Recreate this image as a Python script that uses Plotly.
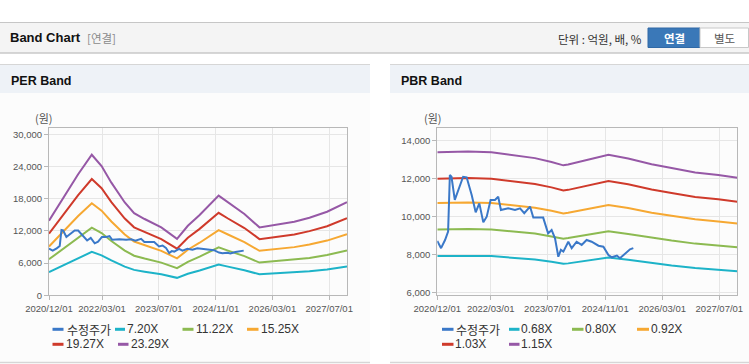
import plotly.graph_objects as go

W, H = 749, 364

# ---------------- data ----------------
x_tick_vals = ["2020-12-01", "2022-03-01", "2023-07-01", "2024-11-01", "2026-03-01", "2027-07-01"]
x_tick_text = ["2020/12/01", "2022/03/01", "2023/07/01", "2024/11/01", "2026/03/01", "2027/07/01"]
per_y_ticks = [0, 6000, 12000, 18000, 24000, 30000]
pbr_y_ticks = [6000, 8000, 10000, 12000, 14000]

price_dates = ["2020-12-01", "2021-01-02", "2021-02-05", "2021-03-03", "2021-03-18", "2021-04-01",
               "2021-04-29", "2021-05-27", "2021-07-09", "2021-08-08", "2021-09-20", "2021-10-24",
               "2021-11-24", "2021-12-28", "2022-01-26", "2022-02-28", "2022-04-06", "2022-05-04",
               "2022-05-27", "2022-07-28", "2022-09-24", "2022-11-06", "2022-12-12", "2023-01-30",
               "2023-02-27", "2023-05-22", "2023-07-03", "2023-08-02", "2023-08-31", "2023-09-28",
               "2023-10-20", "2023-11-10", "2023-12-22", "2024-01-20", "2024-03-02", "2024-04-14",
               "2024-05-26", "2024-07-08", "2024-09-04", "2024-10-16", "2024-11-28", "2024-12-27",
               "2025-02-08", "2025-03-06", "2025-04-18", "2025-05-31", "2025-06-28"]
price_values = [8700, 8320, 8750, 9190, 12170, 12080,
                10860, 11300, 12080, 12050, 11120, 10210,
                10680, 9680, 9980, 10860, 10860, 11030,
                10330, 10420, 10330, 10420, 10160, 10510,
                9930, 9930, 9100, 9280, 8840, 7870,
                8230, 8140, 8660, 8320, 8660, 8490,
                8750, 8660, 8450, 8400, 7960, 7840,
                7930, 7790, 8050, 8260, 8320]

per_dates = ["2020-12-01", "2021-04-15", "2021-08-08", "2021-12-03", "2022-02-25", "2022-05-20",
             "2022-09-12", "2022-12-01", "2023-03-01", "2023-07-22", "2023-12-04", "2024-03-06",
             "2024-06-15", "2024-11-25", "2025-02-13", "2025-07-04", "2025-11-10", "2026-02-04",
             "2026-09-05", "2027-01-13", "2027-06-13", "2027-12-01"]
per_720 = [4300, 5720, 6970, 8090, 7450, 6490, 5340, 4730, 4390, 3910, 3250, 4000,
           4620, 5740, 5340, 4680, 3910, 4000, 4230, 4460, 4810, 5360]
per_1122 = [6700, 8920, 10860, 12610, 11600, 10110, 8330, 7370, 6840, 6090, 5060, 6240,
            7200, 8940, 8330, 7290, 6090, 6240, 6600, 6960, 7500, 8360]
per_1525 = [9100, 12120, 14760, 17140, 15770, 13740, 11320, 10020, 9300, 8280, 6880, 8480,
            9790, 12150, 11320, 9910, 8280, 8480, 8970, 9460, 10190, 11360]
per_1927 = [11500, 15320, 18650, 21660, 19930, 17360, 14300, 12660, 11760, 10460, 8690, 10710,
            12370, 15360, 14300, 12530, 10460, 10710, 11330, 11950, 12870, 14360]
per_2329 = [13900, 18520, 22550, 26180, 24080, 20980, 17280, 15300, 14210, 12650, 10500, 12950,
            14950, 18560, 17280, 15140, 12650, 12950, 13700, 14440, 15560, 17350]

pbr_dates = ["2020-12-01", "2021-08-20", "2022-03-07", "2022-10-21", "2023-03-13", "2023-08-01",
             "2023-11-10", "2023-12-21", "2024-06-10", "2024-11-28", "2025-05-15", "2025-12-01",
             "2026-05-20", "2026-12-07", "2027-06-22", "2027-12-01"]
pbr_068 = [7910, 7930, 7910, 7790, 7720, 7600, 7500, 7520, 7680, 7830, 7710, 7530, 7410, 7280, 7190, 7110]
pbr_080 = [9300, 9330, 9300, 9160, 9090, 8940, 8820, 8850, 9040, 9210, 9070, 8860, 8720, 8560, 8460, 8370]
pbr_092 = [10700, 10730, 10700, 10530, 10450, 10290, 10150, 10180, 10400, 10590, 10430, 10190, 10030, 9840, 9730, 9620]
pbr_103 = [11980, 12010, 11980, 11790, 11700, 11520, 11360, 11390, 11640, 11860, 11680, 11410, 11230, 11020, 10900, 10770]
pbr_115 = [13370, 13410, 13370, 13170, 13060, 12860, 12680, 12720, 13000, 13240, 13040, 12740, 12540, 12300, 12170, 12030]

price_name = "수정주가"
per_names = ["7.20X", "11.22X", "15.25X", "19.27X", "23.29X"]
pbr_names = ["0.68X", "0.80X", "0.92X", "1.03X", "1.15X"]
band_colors = ["#1db3c8", "#8cba51", "#f6a832", "#cf3a2b", "#9658a6"]
price_color = "#3a78c8"

# ---------------- helpers ----------------
def px(x):
    return x / W

def py(y):
    return 1 - y / H

KFONT = "Noto Sans CJK KR"
LFONT = "Liberation Sans, Arial"

fig = go.Figure()

per_bands = [per_720, per_1122, per_1525, per_1927, per_2329]
pbr_bands = [pbr_068, pbr_080, pbr_092, pbr_103, pbr_115]

for vals, name, col in zip(per_bands, per_names, band_colors):
    fig.add_trace(go.Scatter(x=per_dates, y=vals, name=name, mode="lines",
                             line=dict(color=col, width=2), xaxis="x", yaxis="y",
                             showlegend=False, hoverinfo="skip"))
fig.add_trace(go.Scatter(x=price_dates, y=price_values, name=price_name, mode="lines",
                         line=dict(color=price_color, width=2), xaxis="x", yaxis="y",
                         showlegend=False))

for vals, name, col in zip(pbr_bands, pbr_names, band_colors):
    fig.add_trace(go.Scatter(x=pbr_dates, y=vals, name=name, mode="lines",
                             line=dict(color=col, width=2), xaxis="x2", yaxis="y2",
                             showlegend=False, hoverinfo="skip"))
fig.add_trace(go.Scatter(x=price_dates, y=price_values, name=price_name, mode="lines",
                         line=dict(color=price_color, width=2), xaxis="x2", yaxis="y2",
                         showlegend=False))

axis_common = dict(showgrid=True, gridcolor="#e6e6e6", gridwidth=1,
                   showline=True, mirror=True, linecolor="#b8b8b8", linewidth=1,
                   ticks="outside", ticklen=4, tickcolor="#b8b8b8",
                   tickfont=dict(family=LFONT, size=9.5, color="#555555"),
                   zeroline=False, fixedrange=True, automargin=False)

xdom1 = [px(49), px(347)]
xdom2 = [px(437.3), px(737.3)]
ydom = [py(295.3), py(128.3)]

fig.update_layout(
    width=W, height=H, autosize=False,
    margin=dict(l=0, r=0, t=0, b=0, pad=0),
    paper_bgcolor="white", plot_bgcolor="white",
    showlegend=False,
    xaxis=dict(domain=xdom1, anchor="y", type="date", range=["2020-12-01", "2027-12-01"],
               tickvals=x_tick_vals, ticktext=x_tick_text, **axis_common),
    yaxis=dict(domain=ydom, anchor="x", range=[0, 31100], tickvals=per_y_ticks,
               tickformat=",", **axis_common),
    xaxis2=dict(domain=xdom2, anchor="y2", type="date", range=["2020-12-01", "2027-12-01"],
                tickvals=x_tick_vals, ticktext=x_tick_text, **axis_common),
    yaxis2=dict(domain=ydom, anchor="x2", range=[5840, 14630], tickvals=pbr_y_ticks,
                tickformat=",", **axis_common),
)

shapes = []
def rect(x0, y0, x1, y1, fill, line=None, lw=0):
    shapes.append(dict(type="rect", xref="paper", yref="paper", x0=px(x0), x1=px(x1),
                       y0=py(y1), y1=py(y0), fillcolor=fill, layer="below",
                       line=dict(color=line or fill, width=lw)))

def hline(x0, x1, y, color, width=1):
    shapes.append(dict(type="line", xref="paper", yref="paper", x0=px(x0), x1=px(x1),
                       y0=py(y), y1=py(y), line=dict(color=color, width=width), layer="below"))

# top header bar
rect(0, 22, 749, 53, "#f4f4f4")
hline(0, 749, 22.5, "#c6c6c6", 1)
hline(0, 749, 53, "#c8c8c8", 1.5)
# buttons
rect(648, 28, 700, 47.5, "#3a78b8", "#3069a6", 1)
rect(700, 28, 748.5, 47.5, "#ffffff", "#c8c8c8", 1)

# panels
for (a, b) in [(0, 370), (390, 749)]:
    rect(a, 93, b, 362, "#fcfcfc")
    rect(a, 64, b, 93, "#eef2f7")
    hline(a, b, 64.5, "#d6d6d6", 1)
    hline(a, b, 362.5, "#d6d6d6", 1.5)

annotations = []
def text(x, y, s, size=12, color="#222", family=LFONT, anchor="left", bold=False):
    if bold:
        s = "<b>" + s + "</b>"
    annotations.append(dict(x=px(x), y=py(y), xref="paper", yref="paper", text=s,
                            showarrow=False, xanchor=anchor, yanchor="middle",
                            xshift=0, yshift=0, borderpad=0, borderwidth=0,
                            font=dict(size=size, color=color, family=family)))

text(10, 38, "Band Chart", 13, "#111", LFONT, bold=True)
text(87, 38.5, "[연결]", 11.5, "#8a8a8a", KFONT)
text(642, 39, "단위 : 억원, 배, %", 11.5, "#333", KFONT, anchor="right")
text(674, 38, "연결", 11.5, "#ffffff", KFONT, anchor="center", bold=True)
text(724.5, 38, "별도", 11.5, "#555555", KFONT, anchor="center")

text(10.5, 80.5, "PER Band", 12.5, "#111", LFONT, bold=True)
text(400.5, 80.5, "PBR Band", 12.5, "#111", LFONT, bold=True)
text(44, 118, "(원)", 11, "#555", KFONT, anchor="center")
text(432.5, 118, "(원)", 11, "#555", KFONT, anchor="center")

# custom legends
def legend_item(sx0, sx1, tx, y, name, color):
    hline(sx0, sx1, y, color, 3)
    fam = KFONT if name == price_name else LFONT
    text(tx, y, name, 12, "#333", fam)

per_leg = [(52.5, 63.5, 66.5, 329.3), (115, 125, 126.5, 329.3), (182.5, 193.5, 196, 329.3),
           (247, 258.5, 260.5, 329.3), (52.5, 63.5, 66, 344.3), (118, 128.5, 130.5, 344.3)]
pbr_leg = [(442, 453.5, 456, 329.3), (509, 519.5, 520.5, 329.3), (572, 583.5, 585, 329.3),
           (637, 649, 650.5, 329.3), (442, 453.5, 455, 344.3), (509, 519.5, 521, 344.3)]
per_leg_names = [price_name] + per_names
pbr_leg_names = [price_name] + pbr_names
leg_colors = [price_color] + band_colors
for pos, nm, col in zip(per_leg, per_leg_names, leg_colors):
    legend_item(pos[0], pos[1], pos[2], pos[3], nm, col)
for pos, nm, col in zip(pbr_leg, pbr_leg_names, leg_colors):
    legend_item(pos[0], pos[1], pos[2], pos[3], nm, col)

fig.update_layout(shapes=shapes, annotations=annotations)
fig.write_html("out.html", config={"displayModeBar": False},
               post_script="document.body.style.margin='0px';document.body.style.overflow='hidden';")
